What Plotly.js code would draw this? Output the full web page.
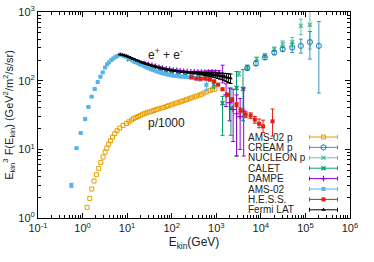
<!DOCTYPE html>
<html><head><meta charset="utf-8">
<script src="https://cdn.plot.ly/plotly-3.0.1.min.js"></script>
<style>html,body{margin:0;padding:0;background:#fff}#chart{width:374px;height:262px}</style>
</head><body><div id="chart"></div>
<script>
// ---- data (E_kin in GeV, E^3 F in GeV^2/m^2/s/sr) ----
const amsP_E = [1.26,1.45,1.61,1.81,2.05,2.31,2.56,2.88,3.2,3.49,3.87,4.22,4.69,5.27,5.94,6.8,8.1,9.7,11,12.5,14,15.7,17.6,19.8,22.3,25,28,31.5,35.4,40,45,51,58,66,76,86,98,112,128,146,167,190,215,245,280,320,361,410,465,530,610,716,820,930];
const amsP_F = [1.43,1.93,2.64,3.46,4.27,5.27,6.45,7.72,9.12,10.4,11.9,13.3,15.1,16.9,18.7,20.4,22.3,23.8,25.2,26.7,28,29.1,30.1,31.2,32.4,33.4,34.2,35,35.8,36.8,37.9,38.9,39.8,40.8,42.1,43.3,44.6,46,47.2,48.6,50.1,51.5,52.8,54.6,56.3,58,59.7,61.5,63.3,66,69,72,74,75.4];

const creamE = [4950,7750,12300,20000,30800,50600,79000,126000,200000];
const creamF = [152,178,218,257,288,304,321,365,321];
const creamUp = [10,12,15,18,22,48,82,155,407];
const creamDn = [10,12,15,18,22,47,69,159,255];

const nucE = [3200,4950,8030,12300,20000,30800,50600,79000,126000];
const nucF = [126,158,208,233,288,341,365,630,650];
const nucUp = [10,12,12,15,21,39,60,159,600];
const nucDn = [10,12,12,15,22,39,54,164,362];

const caletE = [11,15,20,28,40,55,75,100,140,200,280,400,560,700,880,1380,2130,2850,3980];
const caletF = [205,188,176,162,150,142,135,130,125,121,118,115,112,108,88,47,40,78,76];
const caletUp = [0,0,0,0,0,0,0,0,0,0,0,0,4,6,10,12,38,58,69];
const caletDn = [0,0,0,0,0,0,0,0,0,0,0,0,4,6,10,31,24,70,50];

const dampeE = [25,30,36,43,52,62,75,90,108,130,155,186,223,268,322,387,464,557,668,802,962,1150,1390,1660,1990,2390,2860,3430,4120];
const dampeF = [178,172,167,162,157,153,149,146,143,141,139,137,136,135,134,134,133,133,134,134,132,128,118,62,48,38,33,30,36];
const dampeUp = [0,0,0,0,0,0,0,0,0,0,0,0,0,0,3,3,4,5,6,7,9,12,50,28,30,37,29,25,42];
const dampeDn = [0,0,0,0,0,0,0,0,0,0,0,0,0,0,3,3,4,5,6,7,9,12,25,20,22,25,25,20,28];

const amsE_E = [0.56,0.73,0.91,1.14,1.35,1.60,1.87,2.19,2.51,2.83,3.2,3.55,3.93,4.43,4.9,5.46,6.0,6.8,7.6,8.5,9.5,10.7,12,13.5,15,17,19,21,24,27,30,34,38,43,48,54,60,68,77,86,97,110,125,142,160,180,205,235,270,310,360,430,600];
const amsE_F = [3.0,10.4,17.3,27.6,41.4,58.5,75.6,95.6,114,132,156,173,185,200,211,221,229,240,236,229,222,214,205,196,189,181,175,169,163,157,152,147,143,139,135,132,129,126,124,122,120,118,117,116,115,114,113,112,111,110,108,105,87];
const amsE_Err = [0.2,0,0,0,0,0,0,0,0,0,0,0,0,0,0,0,0,0,0,0,0,0,0,0,0,0,0,0,0,0,0,0,0,0,0,0,0,0,0,0,0,0,0,0,0,0,0,0,3,3,4,6,15];

const hessE = [277,359,450,571,716,895,1100,1380,1780,2270,2840,3500,4570,5890,7330,9130,11200,18300];
const hessF = [112,107,107,107,103,98,87.5,75,62.5,53,44.7,37,32,31,27,23.6,21.6,25.6];
const hessUp = [2,2,2,2,2,2,3,3,3,3,3,3,3,3,3,4,5,13];
const hessDn = [2,2,2,2,2,2,3,3,3,3,3,3,3,3,3,3,4,10];

const fermiE = [7,7.8,8.7,9.7,10.8,12,13.4,15,16.7,18.6,20.8,23.2,25.9,28.9,32.3,36,40,45,50,56,62,70,78,87,97,108,121,135,150,168,187,209,233,260,290,324,361,403,450,502,560,625,700,780,870,970,1080,1210,1350,1500,1680,1870,2090];
const fermiF = [240,237,233,228,222,216,209,203,197,191,186,181,177,173,169,165,162,159,156,153,150,148,146,144,142,140,138,137,136,135,134,133,132,131,130,130,129,128,127,126,125,124,123,122,121,120,119,117,116,114,112,110,108];
const fermiErr = [0,0,0,0,0,0,0,0,0,0,0,0,0,0,0,0,0,0,0,0,0,0,0,0,0,0,0,0,0,0,0,0,0,0,3,3,4,4,5,5,6,6,7,8,9,10,11,12,13,14,15,16,17];

const xTickVals = [0.1,1,10,100,1000,10000,100000,1000000];
const xTickText = ['10<sup>-1</sup>','10<sup>0</sup>','10<sup>1</sup>','10<sup>2</sup>','10<sup>3</sup>','10<sup>4</sup>','10<sup>5</sup>','10<sup>6</sup>'];
const yTickVals = [1,10,100,1000];
const yTickText = ['10<sup>0</sup>','10<sup>1</sup>','10<sup>2</sup>','10<sup>3</sup>'];

const seriesNames = ['AMS-02 p','CREAM p','NUCLEON p','CALET','DAMPE','AMS-02','H.E.S.S.','Fermi LAT'];

// ---- styles ----
const FONT = 'Liberation Sans, Arial, sans-serif';
const styles = [
  {color:'#e69f00', symbol:'square-open', size:4, lw:1},
  {color:'rgba(0,114,178,0.75)', symbol:'circle-open', size:5, lw:1.2},
  {color:'rgba(0,158,115,0.6)', symbol:'x-thin-open', size:4, lw:1.5},
  {color:'#009e73', symbol:'x-thin-open', size:4, lw:1.5},
  {color:'#9400d3', symbol:'cross-thin-open', size:4, lw:1.2},
  {color:'#56b4e9', symbol:'square', size:4, lw:0},
  {color:'#e51e10', symbol:'square', size:4, lw:0},
  {color:'#000000', symbol:'triangle-up', size:4, lw:0}
];
const dataSets = [
  [amsP_E, amsP_F, null, null],
  [creamE, creamF, creamUp, creamDn],
  [nucE, nucF, nucUp, nucDn],
  [caletE, caletF, caletUp, caletDn],
  [dampeE, dampeF, dampeUp, dampeDn],
  [amsE_E, amsE_F, amsE_Err, amsE_Err],
  [hessE, hessF, hessUp, hessDn],
  [fermiE, fermiF, fermiErr, fermiErr]
];

const traces = [];
dataSets.forEach((d, i) => {
  const s = styles[i];
  const t = {type:'scatter', mode:'markers', name:seriesNames[i], x:d[0], y:d[1],
    xaxis:'x', yaxis:'y', showlegend:false, hoverinfo:'skip',
    marker:{color:s.color, symbol:s.symbol, size:s.size, line:{color:s.color, width:s.lw}}};
  if (d[2]) t.error_y = {type:'data', symmetric:false, array:d[2], arrayminus:d[3], color:s.color, thickness:1, width:2};
  traces.push(t);
});

// ---- gnuplot-style legend (text left, sample right) ----
const plotL = 38, plotR = 350, plotT = 12, plotB = 218;
const fx = px => (px - plotL) / (plotR - plotL);
const fy = py => (plotB - py) / (plotB - plotT);
const legendTop = 137, legendStep = 10.4;
const annotations = [];
seriesNames.forEach((n, i) => {
  const s = styles[i];
  const yy = fy(legendTop + i * legendStep);
  traces.push({type:'scatter', mode:'markers', x:[fx(323.5)], y:[yy], xaxis:'x2', yaxis:'y2',
    showlegend:false, hoverinfo:'skip',
    marker:{color:s.color, symbol:s.symbol, size:s.size, line:{color:s.color, width:s.lw}},
    error_x:{type:'data', array:[14/(plotR-plotL)], color:s.color, thickness:1, width:2}});
  annotations.push({xref:'paper', yref:'paper', x:fx(247), y:yy, xanchor:'left', yanchor:'middle',
    text:n, showarrow:false, borderpad:0, font:{family:FONT, size:10, color:'#222'}});
});
annotations.push({xref:'paper', yref:'paper', x:fx(165), y:fy(54), xanchor:'center', yanchor:'middle',
  text:'e<sup>+</sup> + e<sup>-</sup>', showarrow:false, font:{family:FONT, size:12, color:'#222'}});
annotations.push({xref:'paper', yref:'paper', x:fx(166), y:fy(123), xanchor:'center', yanchor:'middle',
  text:'p/1000', showarrow:false, font:{family:FONT, size:12, color:'#222'}});

const axisCommon = {
  showline:true, linecolor:'#000', linewidth:1, mirror:'allticks',
  ticks:'inside', ticklen:5, tickcolor:'#000', tickwidth:1,
  showgrid:false, zeroline:false, tickmode:'array',
  tickfont:{family:FONT, size:11, color:'#222'},
  minor:{ticks:'inside', ticklen:3, tickcolor:'#000', dtick:'D1', showgrid:false}
};

const layout = {
  width:374, height:262,
  margin:{l:plotL, r:374-plotR, t:plotT, b:262-plotB},
  paper_bgcolor:'#fff', plot_bgcolor:'#fff',
  font:{family:FONT, size:11, color:'#222'},
  showlegend:false,
  xaxis:Object.assign({}, axisCommon, {type:'log', range:[-1,6], tickvals:xTickVals, ticktext:xTickText,
    title:{text:'E<sub>kin</sub>(GeV)', font:{family:FONT, size:12, color:'#222'}, standoff:4}}),
  yaxis:Object.assign({}, axisCommon, {type:'log', range:[0,3], tickvals:yTickVals, ticktext:yTickText,
    title:{text:'E<sub>kin</sub><sup>3</sup> F(E<sub>kin</sub>) (GeV<sup>2</sup>/m<sup>2</sup>/s/sr)', font:{family:FONT, size:11, color:'#222'}, standoff:2}}),
  xaxis2:{overlaying:'x', anchor:'y2', range:[0,1], visible:false, fixedrange:true},
  yaxis2:{overlaying:'y', anchor:'x2', range:[0,1], visible:false, fixedrange:true},
  annotations:annotations
};

Plotly.newPlot('chart', traces, layout, {staticPlot:true, displayModeBar:false});
</script>
</body></html>
